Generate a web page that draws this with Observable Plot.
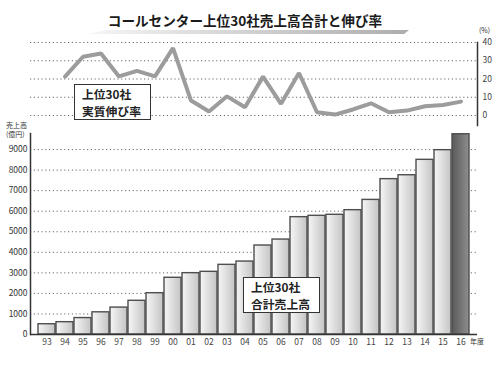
<!DOCTYPE html>
<html><head><meta charset="utf-8">
<script src="https://cdn.jsdelivr.net/npm/d3@7"></script>
<script src="https://cdn.jsdelivr.net/npm/@observablehq/plot@0.6"></script>
<style>
body{margin:0;background:#fff;}
#root{position:relative;width:500px;height:376px;overflow:hidden;font-family:"Noto Sans CJK JP",sans-serif;color:#222;}
.abs{position:absolute;white-space:nowrap;}
#title{left:0;width:490px;top:10px;text-align:center;font-size:13.6px;line-height:20px;font-weight:bold;color:#1a1a1a;z-index:2;}
#swoosh{left:87px;top:30px;width:322px;height:4px;background:linear-gradient(to right,#f6f6f6,#adadad);clip-path:polygon(0% 100%,6% 0%,100% 0%,98.5% 100%);z-index:1;}
.box{background:#fff;border:1.5px solid #333;font-size:11.8px;font-weight:bold;line-height:17px;padding:0 0 0 7px;box-sizing:border-box;z-index:3;}
.small{font-size:7px;color:#333;line-height:8.5px;z-index:3;}
svg{position:absolute;left:0;}
</style></head><body>
<div id="root">
  <div id="title" class="abs">コールセンター上位30社売上高合計と伸び率</div>
  <div id="swoosh" class="abs"></div>
</div>
<script>
const years = ["93","94","95","96","97","98","99","00","01","02","03","04","05","06","07","08","09","10","11","12","13","14","15","16"];
const sales = [500,600,800,1080,1310,1640,2010,2760,2985,3050,3390,3550,4330,4620,5710,5775,5825,6050,6550,7560,7750,8500,8970,9745];
const growthYears = years.slice(1);
const growth = [21.3,32.2,34,21.4,24.5,21.4,36.9,8.2,2.2,10.5,4.5,21.3,6.4,23.3,1.8,0.5,3.3,6.7,1.8,2.7,5.1,5.8,7.6];
const salesTicks = [0,1000,2000,3000,4000,5000,6000,7000,8000,9000];
const growthTicks = [0,10,20,30,40];

const salesData = years.map((y,i)=>({year:y, v:sales[i]}));
const growthData = growthYears.map((y,i)=>({year:y, v:growth[i]}));
const font = '"Noto Sans CJK JP", sans-serif';
const xOpts = {type:"band", domain:years, paddingInner:0.08, paddingOuter:0.4};
const dots = {stroke:"#6a6a6a", strokeDasharray:"1.2,2.6", strokeWidth:1};
const plain = d => String(d);

const topPlot = Plot.plot({
  width:500, height:130, marginLeft:30, marginRight:23, marginTop:42, marginBottom:15,
  style:{fontFamily:font, background:"transparent", overflow:"visible", color:"#333"},
  x:{...xOpts, axis:null},
  y:{domain:[0,40], axis:null},
  marks:[
    Plot.ruleY(growthTicks, dots),
    Plot.frame({anchor:"right", insetBottom:-10, stroke:"#333", strokeWidth:1.5}),
    Plot.axisY(growthTicks, {anchor:"right", tickSize:0, tickPadding:5, fontSize:8.5, fill:"#444", label:null, tickFormat:plain}),
    Plot.lineY(growthData, {x:"year", y:"v", stroke:"#9c9c9c", strokeWidth:4, strokeLinejoin:"miter"})
  ]
});
topPlot.style.top = "0px";

const bottomPlot = Plot.plot({
  width:500, height:256, marginLeft:30, marginRight:23, marginTop:8.5, marginBottom:42,
  style:{fontFamily:font, background:"transparent", overflow:"visible", color:"#333"},
  x:{...xOpts},
  y:{domain:[0,10000]},
  marks:[
    Plot.ruleY(salesTicks.filter(d=>d>0), dots),
    Plot.barY(salesData.filter(d=>d.year!=="16"), {x:"year", y:"v", fill:"url(#barLight)", stroke:"#4e4e4e", strokeWidth:1.4}),
    Plot.barY(salesData.filter(d=>d.year==="16"), {x:"year", y:"v", fill:"url(#barDark)", stroke:"#4e4e4e", strokeWidth:1.4}),
    Plot.ruleY([0], {stroke:"#333", strokeWidth:1.5}),
    Plot.frame({anchor:"left", insetTop:4.5, stroke:"#333", strokeWidth:1.5}),
    Plot.axisY(salesTicks, {anchor:"left", tickSize:0, tickPadding:3, fontSize:8.5, fill:"#333", label:null, tickFormat:plain}),
    Plot.axisX({tickSize:0, tickPadding:4, fontSize:8.5, fill:"#444", label:null})
  ]
});
bottomPlot.style.top = "120px";
d3.select(bottomPlot).insert("defs", ":first-child").html(
  '<linearGradient id="barLight" x1="0" x2="1" y1="0" y2="0"><stop offset="0" stop-color="#f6f6f6"/><stop offset="1" stop-color="#c4c4c4"/></linearGradient>' +
  '<linearGradient id="barDark" x1="0" x2="1" y1="0" y2="0"><stop offset="0" stop-color="#5a5a5a"/><stop offset="1" stop-color="#8e8e8e"/></linearGradient>'
);

const root = document.getElementById("root");
root.appendChild(bottomPlot);
root.appendChild(topPlot);

function addDiv(cls, html, css){
  const d = document.createElement("div");
  d.className = "abs " + cls;
  d.innerHTML = html;
  Object.assign(d.style, css);
  root.appendChild(d);
}
addDiv("box", "上位30社<br>実質伸び率", {left:"74px", top:"84px", width:"77px", height:"36px"});
addDiv("box", "上位30社<br>合計売上高", {left:"243px", top:"277px", width:"77px", height:"36px"});
addDiv("small", "(%)", {left:"479px", top:"26px"});
addDiv("small", "売上高<br>(億円)", {left:"6px", top:"121px"});
addDiv("small", "年度", {left:"470px", top:"337px"});
</script>
</body></html>
